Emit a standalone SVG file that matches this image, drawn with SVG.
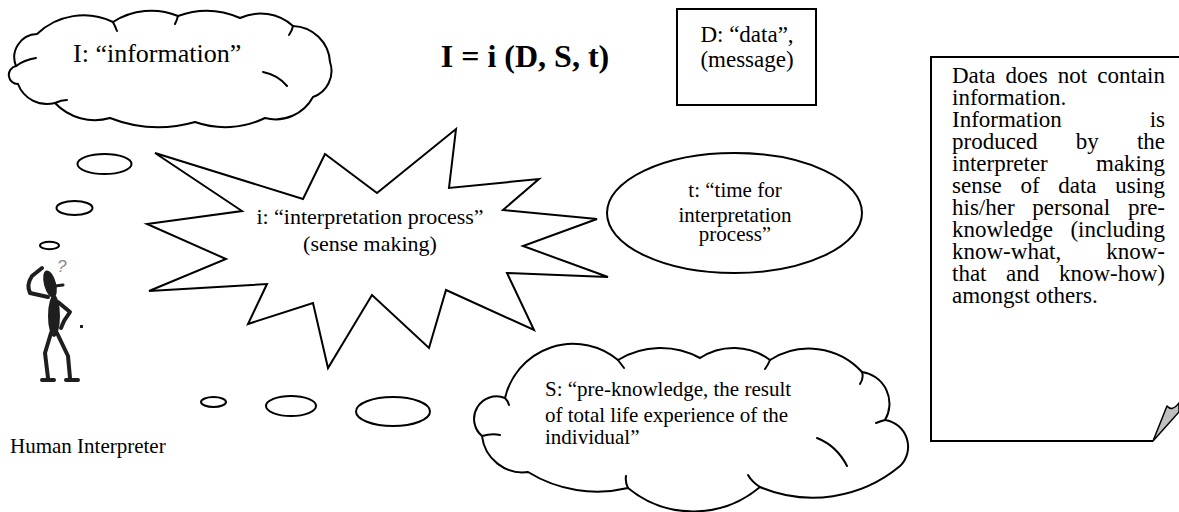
<svg xmlns="http://www.w3.org/2000/svg" width="1179" height="512" viewBox="0 0 1179 512">
<style>
.sh{fill:#fff;stroke:#000;stroke-width:2;stroke-linejoin:miter}
.hk{fill:none;stroke:#000;stroke-width:2;stroke-linecap:round}
.bub{fill:#fff;stroke:#000;stroke-width:2}
.fig{fill:none;stroke:#1e1e1e;stroke-width:4;stroke-linecap:round;stroke-linejoin:round}
text{font-family:"Liberation Serif","Times New Roman",serif;fill:#000}
.t21{font-size:21px}
.t23{font-size:23px}
</style>
<rect width="1179" height="512" fill="#fff"/>

<g id="connectors">
  <ellipse class="bub" cx="104.5" cy="164" rx="27" ry="10"/>
  <ellipse class="bub" cx="74.5" cy="208" rx="18" ry="7"/>
  <ellipse class="bub" cx="49.5" cy="245.5" rx="9.5" ry="3.7"/>
  <ellipse class="bub" cx="213.5" cy="402" rx="12.5" ry="5"/>
  <ellipse class="bub" cx="291" cy="406" rx="25" ry="10"/>
  <ellipse class="bub" cx="393" cy="411.5" rx="37" ry="14.5"/>
</g>

<g id="node-information">
  <path class="sh" d="M16,66 A23.3,23.3 0 0 1 37,34 A67.6,67.6 0 0 1 113,22 A70.6,70.6 0 0 1 178,16 A83,83 0 0 1 240,18 A48.9,48.9 0 0 1 293,26 A38.3,38.3 0 0 1 330,62 A27.6,27.6 0 0 1 313,97 A42.6,42.6 0 0 1 265,118 A91.3,91.3 0 0 1 195,122 A132.8,132.8 0 0 1 110,118 A54.8,54.8 0 0 1 55,103 A31,31 0 0 1 18,84 A9.1,9.1 0 0 1 16,66 Z"/>
  <path class="hk" d="M113,22 q2,4 4,9 M293,26 q-1,5 -4,9 M263,72 q15,3 24,14 M55,103 q6,-3 12,-3 M16,66 q8,-6 20,-8 M178,16 q-1,4 -3,8"/>
  <text x="73" y="62" style="font-size:26px">I: “information”</text>
</g>

<g id="node-formula">
  <text x="525" y="67" text-anchor="middle" style="font-size:32px;font-weight:bold">I = i (D, S, t)</text>
</g>

<g id="node-data">
  <rect class="sh" x="677" y="9" width="139" height="96"/>
  <text class="t23" x="747" y="42" text-anchor="middle">D: “data”,</text>
  <text class="t23" x="747" y="67" text-anchor="middle">(message)</text>
</g>

<g id="node-interpretation">
  <polygon class="sh" points="155,153 303,199 325,154 377,193 456,129 449,188 539,179 503,210 597,219 523,246 608,277 507,273 534,330 446,290 429,348 372,295 328,368 313,303 248,324 267,284 149,291 226,259 147,224 242,211"/>
  <text x="370" y="224" text-anchor="middle" style="font-size:22px">i: “interpretation process”</text>
  <text x="370" y="251" text-anchor="middle" style="font-size:22px">(sense making)</text>
</g>

<g id="node-time">
  <ellipse class="sh" cx="734.5" cy="213" rx="127.5" ry="60"/>
  <text class="t21" x="735" y="197" text-anchor="middle">t: “time for</text>
  <text class="t21" x="735" y="222" text-anchor="middle">interpretation</text>
  <text class="t21" x="735" y="241" text-anchor="middle">process”</text>
</g>

<g id="node-preknowledge">
  <path class="sh" d="M505,398 A70,70 0 0 1 618,360 A82,82 0 0 1 700,358 A61,61 0 0 1 770,360 A72,72 0 0 1 862,372 A32,32 0 0 1 885,420 A27,27 0 0 1 900,466 A136,136 0 0 1 760,487 A103,103 0 0 1 628,488 A132,132 0 0 1 528,472 A41,41 0 0 1 482,436 A22.5,22.5 0 0 1 505,398 Z"/>
  <path class="hk" d="M618,360 q3,4 6,8 M770,360 q-2,5 -5,9 M862,372 q2,6 -2,12 M885,420 q-4,1 -9,3 M817,438 q20,8 30,28 M760,487 q-8,-5 -12,-12 M628,488 q-3,-6 -2,-12 M482,436 q10,-3 18,-1 M505,398 q3,3 4,7"/>
  <text class="t21" x="545" y="396">S: “pre-knowledge, the result</text>
  <text class="t21" x="545" y="422">of total life experience of the</text>
  <text class="t21" x="545" y="444">individual”</text>
</g>

<g id="node-note">
  <path fill="#fff" stroke="#000" stroke-width="2" d="M1181,57 H931 V441 H1153"/>
  <path fill="#c0c0c0" stroke="#000" stroke-width="1.5" stroke-linejoin="round" d="M1153,441 L1167,406 Q1172,412 1179,403 L1179,412 Z"/>
  <g class="t23">
    <text x="952" y="83">Data</text><text x="1005.5" y="83">does</text><text x="1057.8" y="83">not</text><text x="1165" y="83" text-anchor="end">contain</text>
    <text x="952" y="105">information.</text>
    <text x="952" y="127">Information</text><text x="1165" y="127" text-anchor="end">is</text>
    <text x="952" y="149">produced</text><text x="1075.7" y="149">by</text><text x="1165" y="149" text-anchor="end">the</text>
    <text x="952" y="171">interpreter</text><text x="1165" y="171" text-anchor="end">making</text>
    <text x="952" y="193">sense</text><text x="1020.4" y="193">of</text><text x="1058.2" y="193">data</text><text x="1165" y="193" text-anchor="end">using</text>
    <text x="952" y="215">his/her</text><text x="1032.3" y="215">personal</text><text x="1165" y="215" text-anchor="end">pre-</text>
    <text x="952" y="237">knowledge</text><text x="1165" y="237" text-anchor="end">(including</text>
    <text x="952" y="259">know-what,</text><text x="1165" y="259" text-anchor="end">know-</text>
    <text x="952" y="281">that</text><text x="1006.1" y="281">and</text><text x="1165" y="281" text-anchor="end">know-how)</text>
    <text x="952" y="303">amongst others.</text>
  </g>
</g>

<g id="node-human">
  <text x="57" y="272" style="font-family:'Liberation Sans',Arial,sans-serif;font-size:17px;font-style:italic;fill:#8a8a8a">?</text>
  <ellipse cx="50" cy="284" rx="6" ry="14" transform="rotate(-15 50 284)" fill="#1e1e1e"/>
  <path class="fig" style="stroke-width:3" d="M55,286 L63,285"/>
  <path class="fig" d="M48,297 L30,293 Q26,285 32,276 L42,268"/>
  <ellipse cx="54" cy="316" rx="6" ry="21" fill="#1e1e1e"/>
  <path class="fig" d="M58,302 L70,312 L64,321 L61,328"/>
  <path class="fig" d="M51,333 L45,353 L48,378 M57,333 L68,356 L70,378 M42,380 L54,380 M66,380 L78,380"/>
  <rect x="80" y="325" width="3" height="3" fill="#1e1e1e"/>
  <text class="t21" x="10" y="453">Human Interpreter</text>
</g>
</svg>
